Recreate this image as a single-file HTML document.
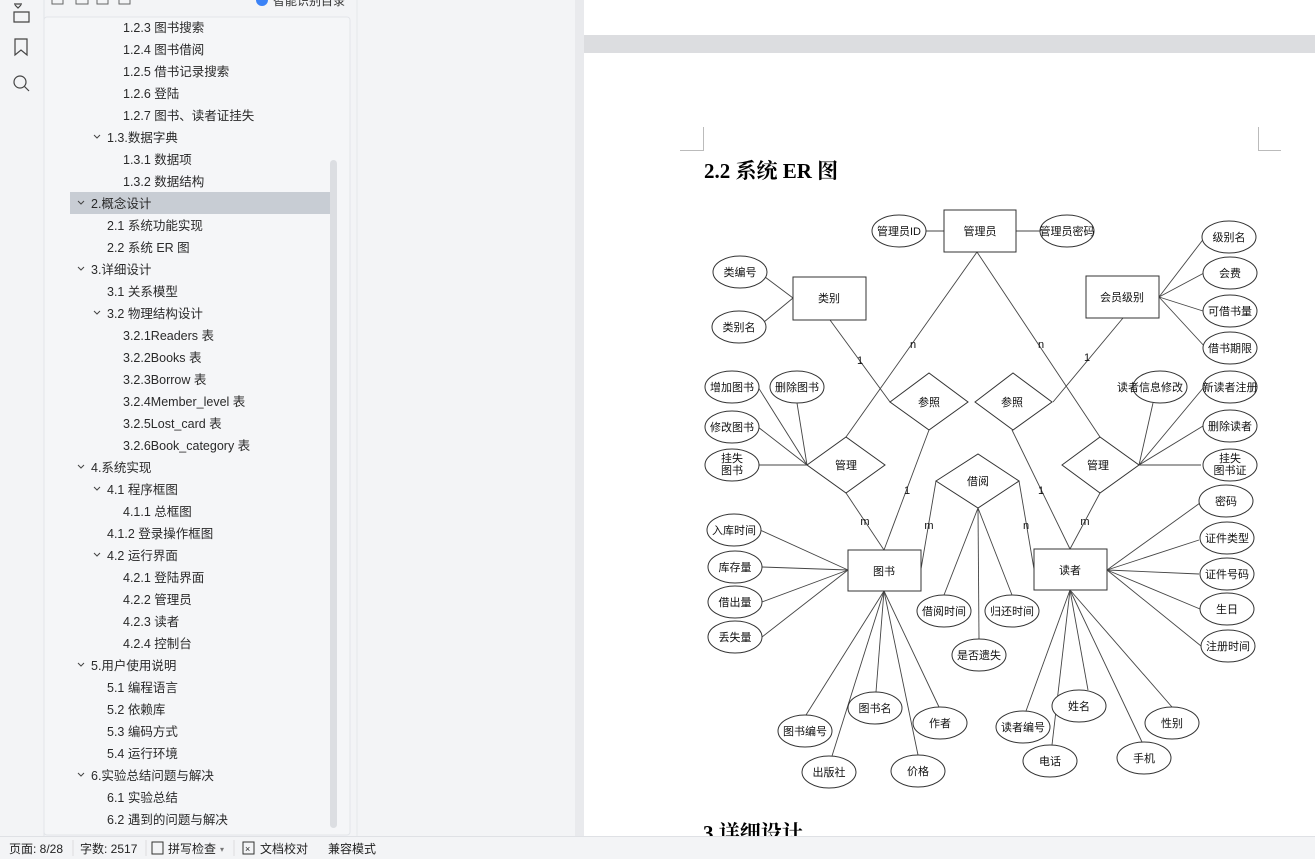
<!DOCTYPE html>
<html><head><meta charset="utf-8">
<style>
html,body{margin:0;padding:0;width:1315px;height:859px;overflow:hidden;background:#f3f4f6;}
svg{display:block}
text{font-family:"Liberation Sans","Noto Sans CJK SC",sans-serif;}
</style></head><body>
<svg width="1315" height="859" viewBox="0 0 1315 859" xmlns="http://www.w3.org/2000/svg">
<!-- backgrounds -->
<rect x="0" y="0" width="1315" height="859" fill="#f3f4f6"/>
<rect x="0" y="0" width="44" height="836" fill="#f3f4f6"/>
<line x1="44" y1="0" x2="44" y2="836" stroke="#e2e4e8"/>
<rect x="44" y="17" width="306" height="818" fill="#f5f6f8" stroke="#e3e5e9" rx="3"/>
<line x1="357" y1="0" x2="357" y2="836" stroke="#e6e8eb"/>
<rect x="575" y="0" width="10" height="836" fill="#e9eaed"/>
<!-- page -->
<rect x="584" y="0" width="731" height="35" fill="#fff"/>
<rect x="584" y="35" width="731" height="18" fill="#dcdde0"/>
<rect x="584" y="53" width="731" height="783" fill="#fff"/>
<!-- status bar -->
<rect x="0" y="836" width="1315" height="23" fill="#f3f4f6"/>
<line x1="0" y1="836.5" x2="1315" y2="836.5" stroke="#dfe1e5"/>
<g font-size="12" fill="#222">
<text x="9" y="853">页面: 8/28</text>
<line x1="73" y1="840" x2="73" y2="856" stroke="#ddd"/>
<text x="80" y="853">字数: 2517</text>
<line x1="146" y1="840" x2="146" y2="856" stroke="#ddd"/>
<rect x="152" y="842" width="11" height="12" fill="none" stroke="#333"/>
<text x="168" y="853">拼写检查</text><text x="220" y="852" font-size="8" fill="#777">▾</text>
<line x1="234" y1="840" x2="234" y2="856" stroke="#ddd"/>
<rect x="243" y="842" width="11" height="12" fill="none" stroke="#333"/>
<text x="245" y="852" font-size="9">×</text>
<text x="260" y="853">文档校对</text>
<text x="328" y="853">兼容模式</text>
<line x1="331" y1="840" x2="331" y2="856" stroke="#fff" stroke-opacity="0"/>
</g>
<!-- left icons -->
<g fill="none" stroke="#444" stroke-width="1.2">
<path d="M14 4 H22 M15 5 L18 8 L21 5 M14 12 H29 V22 H14 Z"/>
<path d="M15 39 H27 V55 L21 50 L15 55 Z"/>
<circle cx="20" cy="82" r="6"/><path d="M24.5 86.5 L29 91"/>
</g>
<!-- sidebar top toolbar remnants -->
<g fill="none" stroke="#666">
<path d="M52 0 V4 H63 V0"/><path d="M76 0 V4 H88 V0"/><path d="M97 0 V4 H108 V0"/><path d="M119 0 V4 H130 V0"/>
</g>
<circle cx="262" cy="0" r="6" fill="#3b82f6"/>
<text x="273" y="5" font-size="12" fill="#333">智能识别目录</text>
<!-- selection -->
<rect x="70" y="192" width="260" height="22" fill="#c8cdd4"/>
<!-- scrollbar -->
<rect x="330" y="160" width="7" height="668" rx="3.5" fill="#dcdee2"/>
<!-- sidebar text -->
<g font-size="12.5" fill="#2a2a2a">
<text x="123" y="32">1.2.3 图书搜索</text>
<text x="123" y="54">1.2.4 图书借阅</text>
<text x="123" y="76">1.2.5 借书记录搜索</text>
<text x="123" y="98">1.2.6 登陆</text>
<text x="123" y="120">1.2.7 图书、读者证挂失</text>
<text x="107" y="142">1.3.数据字典</text>
<text x="123" y="164">1.3.1 数据项</text>
<text x="123" y="186">1.3.2 数据结构</text>
<text x="91" y="208">2.概念设计</text>
<text x="107" y="230">2.1 系统功能实现</text>
<text x="107" y="252">2.2 系统 ER 图</text>
<text x="91" y="274">3.详细设计</text>
<text x="107" y="296">3.1 关系模型</text>
<text x="107" y="318">3.2 物理结构设计</text>
<text x="123" y="340">3.2.1Readers 表</text>
<text x="123" y="362">3.2.2Books 表</text>
<text x="123" y="384">3.2.3Borrow 表</text>
<text x="123" y="406">3.2.4Member_level 表</text>
<text x="123" y="428">3.2.5Lost_card 表</text>
<text x="123" y="450">3.2.6Book_category 表</text>
<text x="91" y="472">4.系统实现</text>
<text x="107" y="494">4.1 程序框图</text>
<text x="123" y="516">4.1.1 总框图</text>
<text x="107" y="538">4.1.2 登录操作框图</text>
<text x="107" y="560">4.2 运行界面</text>
<text x="123" y="582">4.2.1 登陆界面</text>
<text x="123" y="604">4.2.2 管理员</text>
<text x="123" y="626">4.2.3 读者</text>
<text x="123" y="648">4.2.4 控制台</text>
<text x="91" y="670">5.用户使用说明</text>
<text x="107" y="692">5.1 编程语言</text>
<text x="107" y="714">5.2 依赖库</text>
<text x="107" y="736">5.3 编码方式</text>
<text x="107" y="758">5.4 运行环境</text>
<text x="91" y="780">6.实验总结问题与解决</text>
<text x="107" y="802">6.1 实验总结</text>
<text x="107" y="824">6.2 遇到的问题与解决</text>
</g>
<g fill="none" stroke="#444" stroke-width="1">
<path d="M94 135 L97 138 L100 135"/>
<path d="M78 201 L81 204 L84 201"/>
<path d="M78 267 L81 270 L84 267"/>
<path d="M94 311 L97 314 L100 311"/>
<path d="M78 465 L81 468 L84 465"/>
<path d="M94 487 L97 490 L100 487"/>
<path d="M94 553 L97 556 L100 553"/>
<path d="M78 663 L81 666 L84 663"/>
<path d="M78 773 L81 776 L84 773"/>
</g>
<!-- corner marks -->
<path d="M703.5 127 V150.5 H680" fill="none" stroke="#bbb"/>
<path d="M1258.5 127 V150.5 H1281" fill="none" stroke="#bbb"/>
<!-- headings -->
<text x="704" y="178" font-family="Liberation Serif,'Noto Serif CJK SC',serif" font-size="21" font-weight="bold" fill="#000" style="font-family:'Liberation Serif','Noto Serif CJK SC',serif">2.2 系统 ER 图</text>
<text x="703" y="840" font-size="21" font-weight="bold" fill="#000" style="font-family:'Liberation Serif','Noto Serif CJK SC',serif">3.详细设计</text>
<rect x="584" y="836" width="731" height="23" fill="#f3f4f6"/>
<line x1="584" y1="836.5" x2="1315" y2="836.5" stroke="#dfe1e5"/>

<!-- ER diagram -->
<g stroke="#444" stroke-width="0.9" fill="none">
<!-- main lines -->
<line x1="977" y1="252" x2="846" y2="437"/>
<line x1="977" y1="252" x2="1100" y2="437"/>
<line x1="830" y1="320" x2="890" y2="402"/>
<line x1="1123" y1="318" x2="1053" y2="402"/>
<line x1="929" y1="430" x2="884" y2="550"/>
<line x1="846" y1="493" x2="884" y2="550"/>
<line x1="1012" y1="430" x2="1070" y2="549"/>
<line x1="1100" y1="493" x2="1070" y2="549"/>
<line x1="936" y1="481" x2="921" y2="569"/>
<line x1="1019" y1="481" x2="1034" y2="569"/>
<line x1="978" y1="508" x2="944" y2="595"/>
<line x1="978" y1="508" x2="979" y2="639"/>
<line x1="978" y1="508" x2="1012" y2="595"/>
<!-- attr lines -->
<line x1="926" y1="231" x2="944" y2="231"/>
<line x1="1016" y1="231" x2="1040" y2="231"/>
<line x1="765" y1="277" x2="793" y2="298"/>
<line x1="764" y1="322" x2="793" y2="298"/>
<line x1="1159" y1="297" x2="1205" y2="237"/>
<line x1="1159" y1="297" x2="1204" y2="273"/>
<line x1="1159" y1="297" x2="1203" y2="311"/>
<line x1="1159" y1="297" x2="1206" y2="348"/>
<line x1="807" y1="465" x2="758" y2="387"/>
<line x1="807" y1="465" x2="797" y2="403"/>
<line x1="807" y1="465" x2="758" y2="427"/>
<line x1="807" y1="465" x2="758" y2="465"/>
<line x1="1139" y1="465" x2="1153" y2="403"/>
<line x1="1139" y1="465" x2="1204" y2="387"/>
<line x1="1139" y1="465" x2="1203" y2="426"/>
<line x1="1139" y1="465" x2="1201" y2="465"/>
<line x1="848" y1="570" x2="760" y2="530"/>
<line x1="848" y1="570" x2="762" y2="567"/>
<line x1="848" y1="570" x2="762" y2="602"/>
<line x1="848" y1="570" x2="762" y2="637"/>
<line x1="884" y1="591" x2="806" y2="715"/>
<line x1="884" y1="591" x2="876" y2="692"/>
<line x1="884" y1="591" x2="939" y2="707"/>
<line x1="884" y1="591" x2="832" y2="756"/>
<line x1="884" y1="591" x2="918" y2="755"/>
<line x1="1107" y1="570" x2="1200" y2="503"/>
<line x1="1107" y1="570" x2="1199" y2="540"/>
<line x1="1107" y1="570" x2="1199" y2="574"/>
<line x1="1107" y1="570" x2="1200" y2="609"/>
<line x1="1107" y1="570" x2="1201" y2="646"/>
<line x1="1070" y1="590" x2="1026" y2="711"/>
<line x1="1070" y1="590" x2="1052" y2="745"/>
<line x1="1070" y1="590" x2="1088" y2="690"/>
<line x1="1070" y1="590" x2="1142" y2="742"/>
<line x1="1070" y1="590" x2="1172" y2="707"/>
</g>
<g stroke="#333" stroke-width="1" fill="#fff">
<rect x="944" y="210" width="72" height="42"/>
<rect x="793" y="277" width="73" height="43"/>
<rect x="1086" y="276" width="73" height="42"/>
<rect x="848" y="550" width="73" height="41"/>
<rect x="1034" y="549" width="73" height="41"/>
<polygon points="890,402 929,373 968,402 929,430"/>
<polygon points="975,402 1013,373 1052,402 1013,430"/>
<polygon points="807,465 846,437 885,465 846,493"/>
<polygon points="1062,465 1100,437 1139,465 1100,493"/>
<polygon points="936,481 978,454 1019,481 978,508"/>
<ellipse cx="899" cy="231" rx="27" ry="16"/>
<ellipse cx="1067" cy="231" rx="27" ry="16"/>
<ellipse cx="740" cy="272" rx="27" ry="16"/>
<ellipse cx="739" cy="327" rx="27" ry="16"/>
<ellipse cx="1229" cy="237" rx="27" ry="16"/>
<ellipse cx="1230" cy="273" rx="27" ry="16"/>
<ellipse cx="1230" cy="311" rx="27" ry="16"/>
<ellipse cx="1230" cy="348" rx="27" ry="16"/>
<ellipse cx="732" cy="387" rx="27" ry="16"/>
<ellipse cx="797" cy="387" rx="27" ry="16"/>
<ellipse cx="732" cy="427" rx="27" ry="16"/>
<ellipse cx="732" cy="465" rx="27" ry="16"/>
<ellipse cx="1160" cy="387" rx="27" ry="16"/>
<ellipse cx="1230" cy="387" rx="27" ry="16"/>
<ellipse cx="1230" cy="426" rx="27" ry="16"/>
<ellipse cx="1230" cy="465" rx="27" ry="16"/>
<ellipse cx="734" cy="530" rx="27" ry="16"/>
<ellipse cx="735" cy="567" rx="27" ry="16"/>
<ellipse cx="735" cy="602" rx="27" ry="16"/>
<ellipse cx="735" cy="637" rx="27" ry="16"/>
<ellipse cx="944" cy="611" rx="27" ry="16"/>
<ellipse cx="1012" cy="611" rx="27" ry="16"/>
<ellipse cx="979" cy="655" rx="27" ry="16"/>
<ellipse cx="805" cy="731" rx="27" ry="16"/>
<ellipse cx="875" cy="708" rx="27" ry="16"/>
<ellipse cx="940" cy="723" rx="27" ry="16"/>
<ellipse cx="829" cy="772" rx="27" ry="16"/>
<ellipse cx="918" cy="771" rx="27" ry="16"/>
<ellipse cx="1226" cy="501" rx="27" ry="16"/>
<ellipse cx="1227" cy="538" rx="27" ry="16"/>
<ellipse cx="1227" cy="574" rx="27" ry="16"/>
<ellipse cx="1227" cy="609" rx="27" ry="16"/>
<ellipse cx="1228" cy="646" rx="27" ry="16"/>
<ellipse cx="1023" cy="727" rx="27" ry="16"/>
<ellipse cx="1050" cy="761" rx="27" ry="16"/>
<ellipse cx="1079" cy="706" rx="27" ry="16"/>
<ellipse cx="1144" cy="758" rx="27" ry="16"/>
<ellipse cx="1172" cy="723" rx="27" ry="16"/>
</g>
<g font-size="11" fill="#111" text-anchor="middle">
<text x="980" y="235">管理员</text>
<text x="829" y="302">类别</text>
<text x="1122" y="301">会员级别</text>
<text x="884" y="575">图书</text>
<text x="1070" y="574">读者</text>
<text x="929" y="406">参照</text>
<text x="1012" y="406">参照</text>
<text x="846" y="469">管理</text>
<text x="1098" y="469">管理</text>
<text x="978" y="485">借阅</text>
<text x="899" y="235">管理员ID</text>
<text x="1067" y="235">管理员密码</text>
<text x="740" y="276">类编号</text>
<text x="739" y="331">类别名</text>
<text x="1229" y="241">级别名</text>
<text x="1230" y="277">会费</text>
<text x="1230" y="315">可借书量</text>
<text x="1230" y="352">借书期限</text>
<text x="732" y="391">增加图书</text>
<text x="797" y="391">删除图书</text>
<text x="732" y="431">修改图书</text>
<text x="732" y="462">挂失</text><text x="732" y="474">图书</text>
<text x="1150" y="391">读者信息修改</text>
<text x="1230" y="391">新读者注册</text>
<text x="1230" y="430">删除读者</text>
<text x="1230" y="462">挂失</text><text x="1230" y="474">图书证</text>
<text x="734" y="534">入库时间</text>
<text x="735" y="571">库存量</text>
<text x="735" y="606">借出量</text>
<text x="735" y="641">丢失量</text>
<text x="944" y="615">借阅时间</text>
<text x="1012" y="615">归还时间</text>
<text x="979" y="659">是否遗失</text>
<text x="805" y="735">图书编号</text>
<text x="875" y="712">图书名</text>
<text x="940" y="727">作者</text>
<text x="829" y="776">出版社</text>
<text x="918" y="775">价格</text>
<text x="1226" y="505">密码</text>
<text x="1227" y="542">证件类型</text>
<text x="1227" y="578">证件号码</text>
<text x="1227" y="613">生日</text>
<text x="1228" y="650">注册时间</text>
<text x="1023" y="731">读者编号</text>
<text x="1050" y="765">电话</text>
<text x="1079" y="710">姓名</text>
<text x="1144" y="762">手机</text>
<text x="1172" y="727">性别</text>
<!-- cardinalities -->
<text x="913" y="348">n</text>
<text x="1041" y="348">n</text>
<text x="860" y="364">1</text>
<text x="1087" y="361">1</text>
<text x="907" y="494">1</text>
<text x="1041" y="494">1</text>
<text x="865" y="525">m</text>
<text x="929" y="529">m</text>
<text x="1026" y="529">n</text>
<text x="1085" y="525">m</text>
</g>
</svg>
</body></html>
